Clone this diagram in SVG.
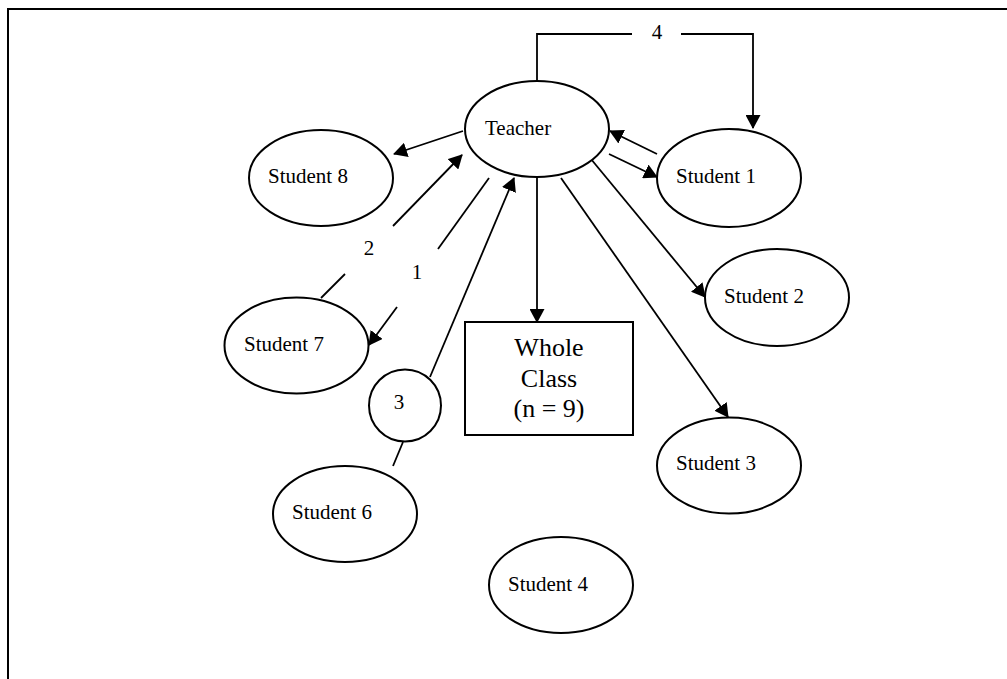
<svg xmlns="http://www.w3.org/2000/svg" width="1007" height="679" viewBox="0 0 1007 679">
<style>
  .node { fill: #fff; stroke: #000; stroke-width: 2; }
  .lbl { font-family: "Liberation Serif", "Times New Roman", serif; font-size: 21px; fill: #000; }
  .big { font-family: "Liberation Serif", "Times New Roman", serif; font-size: 26px; fill: #000; text-anchor: middle; }
  .edge { fill: none; stroke: #000; stroke-width: 1.8; }
  .arr { marker-end: url(#ah); }
</style>
<defs>
  <marker id="ah" markerUnits="userSpaceOnUse" viewBox="0 0 14 15" refX="13" refY="7.5" markerWidth="14" markerHeight="15" orient="auto">
    <path d="M0,0 L14,7.5 L0,15 z" fill="#000"/>
  </marker>
</defs>
<rect width="1007" height="679" fill="#fff"/>
<g id="frame">
  <path d="M8,679 L8,9 L1007,9" fill="none" stroke="#000" stroke-width="2"/>
</g>
<g id="connectors">
  <path class="edge arr" d="M537,81 L537,34 L632,34 M681,34 L753,34 L753,128"/>
  <text class="lbl" x="657" y="39" text-anchor="middle">4</text>
  <line class="edge arr" x1="657" y1="154" x2="610" y2="131"/>
  <line class="edge arr" x1="609" y1="154" x2="657" y2="177"/>
  <line class="edge arr" x1="463" y1="131" x2="394" y2="154"/>
  <line class="edge" x1="321" y1="298" x2="345" y2="274"/>
  <line class="edge arr" x1="393" y1="226" x2="462" y2="155"/>
  <text class="lbl" x="369" y="255" text-anchor="middle">2</text>
  <line class="edge" x1="489" y1="178" x2="438" y2="249"/>
  <line class="edge arr" x1="397" y1="307" x2="369" y2="345"/>
  <text class="lbl" x="417" y="279" text-anchor="middle">1</text>
  <line class="edge arr" x1="430" y1="377" x2="514" y2="178"/>
  <line class="edge" x1="403" y1="442" x2="393" y2="466"/>
  <line class="edge arr" x1="537" y1="178" x2="537" y2="322"/>
  <line class="edge arr" x1="586" y1="153" x2="705" y2="297"/>
  <line class="edge arr" x1="561" y1="178" x2="728" y2="417"/>
</g>
<g id="teacher">
  <ellipse class="node" cx="537" cy="129" rx="72" ry="48"/>
  <text class="lbl" x="485" y="135">Teacher</text>
</g>
<g id="student1">
  <ellipse class="node" cx="729" cy="178" rx="72" ry="49"/>
  <text class="lbl" x="676" y="183">Student 1</text>
</g>
<g id="student2">
  <ellipse class="node" cx="777" cy="297.5" rx="72" ry="48.5"/>
  <text class="lbl" x="724" y="303">Student 2</text>
</g>
<g id="student3">
  <ellipse class="node" cx="729" cy="465.5" rx="72" ry="48"/>
  <text class="lbl" x="676" y="470">Student 3</text>
</g>
<g id="student4">
  <ellipse class="node" cx="561" cy="585" rx="72" ry="48"/>
  <text class="lbl" x="508" y="591">Student 4</text>
</g>
<g id="student6">
  <ellipse class="node" cx="345" cy="514" rx="72" ry="48"/>
  <text class="lbl" x="292" y="519">Student 6</text>
</g>
<g id="student7">
  <ellipse class="node" cx="296.5" cy="345.5" rx="72" ry="48"/>
  <text class="lbl" x="244" y="351">Student 7</text>
</g>
<g id="student8">
  <ellipse class="node" cx="321" cy="178" rx="72" ry="48"/>
  <text class="lbl" x="268" y="183">Student 8</text>
</g>
<g id="circle3">
  <circle class="node" cx="405" cy="405.5" r="36"/>
  <text class="lbl" x="399" y="409" text-anchor="middle">3</text>
</g>
<g id="wholeclass">
  <rect class="node" x="465" y="322" width="168" height="113"/>
  <text class="big" x="549" y="356">Whole</text>
  <text class="big" x="549" y="387">Class</text>
  <text class="big" x="549" y="417">(n = 9)</text>
</g>
</svg>
